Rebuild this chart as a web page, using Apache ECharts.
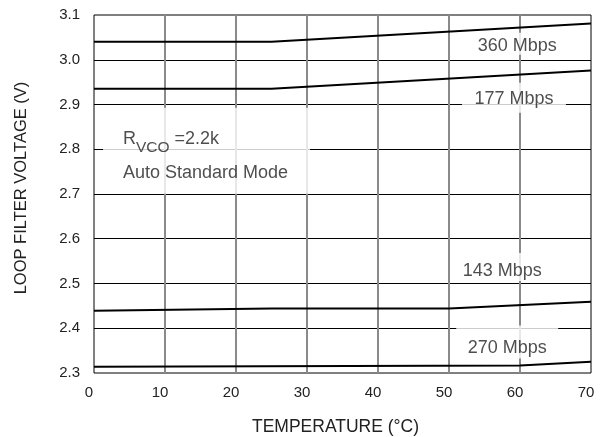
<!DOCTYPE html>
<html><head><meta charset="utf-8">
<script src="https://cdn.jsdelivr.net/npm/echarts@6/dist/echarts.min.js"></script>
<style>html,body{margin:0;padding:0;background:#fff}#c{width:600px;height:437px}</style>
</head><body><div id="c"></div>
<script>
// Axis ranges / ticks
const xMin = 0, xMax = 70, xStep = 10;
const yMin = 2.3, yMax = 3.1, yStep = 0.1;

// Series: temperature (°C) and loop filter voltage (V)
const x360 = [0, 25, 70];
const y360 = [3.040, 3.040, 3.081];
const x177 = [0, 25, 70];
const y177 = [2.935, 2.935, 2.976];
const x143 = [0, 25, 50, 70];
const y143 = [2.439, 2.444, 2.444, 2.459];
const x270 = [0, 60, 70];
const y270 = [2.314, 2.317, 2.325];

// Curve labels (anchored in data coordinates)
const annoText = ['360 Mbps', '177 Mbps', '143 Mbps', '270 Mbps'];
const annoX = [59.6, 59.15, 57.5, 58.2];
const annoY = [3.036, 2.915, 2.537, 2.369];

const FONT = '"Liberation Sans", Arial, Helvetica, sans-serif';
const TXT = '#222';

const pairs = (xs, ys) => xs.map((x, i) => [x, ys[i]]);

const annoBoxSize = [[94, 22], [104, 30], [92, 28], [102, 33]];
const annoOffset = [[0, 2], [0, 1], [0, 4], [0, 6]];

const lineSeries = (name, xs, ys) => ({
  name, type: 'line', data: pairs(xs, ys), symbol: 'none', z: 5,
  lineStyle: { color: '#000', width: 2 }, silent: true
});

const chart = echarts.init(document.getElementById('c'), null, { renderer: 'canvas' });
chart.setOption({
  animation: false,
  backgroundColor: '#fff',
  textStyle: { fontFamily: FONT },
  grid: { left: 94, right: 9, top: 15, bottom: 64, show: true, borderColor: '#000', borderWidth: 1, backgroundColor: 'transparent', containLabel: false, outerBoundsMode: 'none' },
  xAxis: {
    type: 'value', min: xMin, max: xMax, interval: xStep,
    name: 'TEMPERATURE (°C)', nameLocation: 'middle', nameGap: 45,
    nameTextStyle: { fontSize: 17.5, color: TXT, fontFamily: FONT, padding: [0, 14, 0, 0] },
    axisLine: { show: false }, axisTick: { show: false },
    axisLabel: { fontSize: 15, color: TXT, fontFamily: FONT, margin: 12, padding: [0, 10, 0, 0] },
    splitLine: { show: true, showMinLine: false, showMaxLine: false, lineStyle: { color: '#8a8a8a', width: 2 } }
  },
  yAxis: {
    type: 'value', min: yMin, max: yMax, interval: yStep,
    name: 'LOOP FILTER VOLTAGE (V)', nameLocation: 'middle', nameGap: 64, nameRotate: 90,
    nameTextStyle: { fontSize: 16.5, color: TXT, fontFamily: FONT, padding: [0, 0, 0, 12] },
    axisLine: { show: false }, axisTick: { show: false },
    axisLabel: { fontSize: 15, color: TXT, fontFamily: FONT, margin: 14, formatter: v => v.toFixed(1) },
    splitLine: { show: true, showMinLine: false, showMaxLine: false, lineStyle: { color: '#000', width: 1 } }
  },
  series: [
    lineSeries('360 Mbps', x360, y360),
    lineSeries('177 Mbps', x177, y177),
    lineSeries('143 Mbps', x143, y143),
    lineSeries('270 Mbps', x270, y270),
    {
      type: 'scatter', z: 3, silent: true,
      symbol: 'rect',
      itemStyle: { color: '#fff' },
      data: annoText.map((t, i) => ({
        value: [annoX[i], annoY[i]],
        symbolSize: annoBoxSize[i],
        label: { show: true, position: 'inside', formatter: t, fontSize: 18, color: TXT, fontFamily: FONT, offset: annoOffset[i] }
      }))
    },
    {
      type: 'scatter', z: 3, silent: true,
      symbol: 'rect',
      itemStyle: { color: '#fff' },
      data: [
        { value: [15.85, 2.7966], symbolSize: [207, 86], label: { show: false } },
        {
          value: [4.08, 2.8145], symbolSize: 0,
          label: {
            show: true, position: 'right', distance: 0,
            formatter: '{r|R}{s|VCO}{r| =2.2k}',
            rich: {
              r: { fontSize: 18, color: TXT, fontFamily: FONT, lineHeight: 26, verticalAlign: 'top' },
              s: { fontSize: 15.5, color: TXT, fontFamily: FONT, lineHeight: 26, verticalAlign: 'bottom' }
            }
          }
        },
        {
          value: [4.08, 2.7463], symbolSize: 0,
          label: { show: true, position: 'right', distance: 0, formatter: 'Auto Standard Mode', fontSize: 18, color: TXT, fontFamily: FONT }
        }
      ]
    }
  ]
});
</script></body></html>
